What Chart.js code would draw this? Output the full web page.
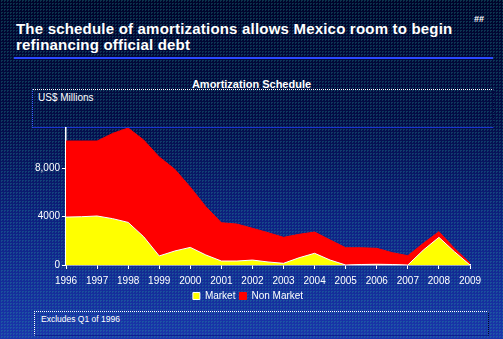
<!DOCTYPE html>
<html>
<head>
<meta charset="utf-8">
<script src="https://cdn.jsdelivr.net/npm/chart.js@4/dist/chart.umd.min.js"></script>
<style>
  html, body { margin: 0; padding: 0; }
  body {
    width: 503px; height: 339px; overflow: hidden; position: relative;
    font-family: "Liberation Sans", Arial, sans-serif; color: #fff;
    background:
      conic-gradient(rgba(40, 170, 160, 0.28) 25%, transparent 0) 0 0 / 3px 3px,
      linear-gradient(#00042a 0%, #040c46 35%, #0e2080 65%, #1a36ac 100%);
  }
  #title {
    position: absolute; left: 16px; top: 21px; width: 460px;
    font-weight: bold; font-size: 15px; line-height: 16px; letter-spacing: 0.2px;
  }
  #page { position: absolute; left: 474px; top: 14px; font-size: 9px; font-weight: bold; }
  #rule { position: absolute; left: 14px; top: 57px; width: 479px; height: 2px; background: #2a48ff; }
  #sub {
    position: absolute; left: 0; width: 503px; top: 78px; text-align: center;
    font-weight: bold; font-size: 11px;
  }
  #unitbox {
    position: absolute; left: 32px; top: 89px; width: 460px; height: 37px;
    border-top: 1px dotted #fff; border-left: 1px dotted #3a5cff;
    border-bottom: 1px solid #1b36d0; border-right: 1px dotted #000a40;
  }
  #unitbox span { position: absolute; left: 5px; top: 2px; font-size: 10px; }
  #note {
    position: absolute; left: 34px; top: 311px; width: 453px; height: 23px;
    border-top: 1px dotted #fff; border-left: 1px dotted #fff;
    border-right: 1px dotted #000820; border-bottom: 1px solid #0d1f90;
  }
  #note span { position: absolute; left: 6px; top: 2px; font-size: 8.5px; }
  canvas { position: absolute; left: 0; top: 0; }
</style>
</head>
<body>
<div id="title">The schedule of amortizations allows Mexico room to begin<br>refinancing official debt</div>
<div id="page">##</div>
<div id="rule"></div>
<div id="sub">Amortization Schedule</div>
<div id="unitbox"><span>US$ Millions</span></div>
<div id="note"><span>Excludes Q1 of 1996</span></div>
<canvas id="amortChart" width="503" height="339"></canvas>
<script>
// half-yearly amortization points, US$ millions
const periods = [1996, 1996.5, 1997, 1997.5, 1998, 1998.5, 1999, 1999.5, 2000, 2000.5,
  2001, 2001.5, 2002, 2002.5, 2003, 2003.5, 2004, 2004.5, 2005, 2005.5,
  2006, 2006.5, 2007, 2007.5, 2008, 2008.5, 2009];
const market = [3970, 4000, 4060, 3840, 3530, 2340, 750, 1160, 1460, 830,
  330, 330, 410, 250, 140, 600, 970, 410, 0, 40,
  60, 40, 0, 1240, 2290, 1100, 0];
const nonMarket = [6300, 6270, 6210, 7060, 7820, 8010, 8200, 6770, 4990, 4000,
  3170, 3060, 2630, 2430, 2150, 1940, 1760, 1660, 1430, 1390,
  1320, 980, 770, 560, 470, 280, 160];
const yTicks = [0, 4000, 8000];
const yTickLabels = ['0', '4000', '8,000'];

const pts = arr => arr.map((v, i) => ({ x: periods[i], y: v }));

const ctx = document.getElementById('amortChart').getContext('2d');
const amortChart = new Chart(ctx, {
  type: 'line',
  data: {
    datasets: [{
      label: 'Market',
      data: pts(market),
      backgroundColor: '#ffff00',
      borderColor: '#ffffff',
      borderWidth: 1,
      fill: 'origin',
      pointRadius: 0
    }, {
      label: 'Non Market',
      data: pts(nonMarket),
      backgroundColor: '#ff0000',
      borderColor: '#ff0000',
      borderWidth: 1,
      fill: '-1',
      pointRadius: 0
    }]
  },
  options: {
    responsive: false,
    animation: false,
    devicePixelRatio: 1,
    layout: { padding: { left: 26, top: 128, right: 33, bottom: 28 } },
    elements: { line: { tension: 0 } },
    plugins: {
      tooltip: { enabled: false },
      legend: {
        position: 'bottom',
        labels: {
          color: '#ffffff',
          font: { family: 'Liberation Sans', size: 10 },
          boxWidth: 7, boxHeight: 7, padding: 4
        }
      }
    },
    scales: {
      x: {
        type: 'linear',
        min: 1996, max: 2009,
        afterBuildTicks: s => { s.ticks = periods.filter(p => p % 1 === 0).map(v => ({ value: v })); },
        afterFit: s => { s.height = 22; },
        ticks: {
          color: '#ffffff', padding: 6, maxRotation: 0, autoSkip: false,
          font: { family: 'Liberation Sans', size: 10 },
          callback: v => String(v)
        },
        grid: { drawOnChartArea: false, color: '#ffffff', tickLength: 4 },
        border: { color: '#ffffff', width: 1.5 }
      },
      y: {
        stacked: true,
        min: 0, max: 11350,
        afterBuildTicks: s => { s.ticks = yTicks.map(v => ({ value: v })); },
        afterFit: s => { s.width = 40; },
        ticks: {
          color: '#ffffff', padding: 2,
          font: { family: 'Liberation Sans', size: 10 },
          callback: v => yTickLabels[yTicks.indexOf(v)]
        },
        grid: { drawOnChartArea: false, color: '#ffffff', tickLength: 4 },
        border: { color: '#ffffff', width: 1.5 }
      }
    }
  }
});
</script>
</body>
</html>
